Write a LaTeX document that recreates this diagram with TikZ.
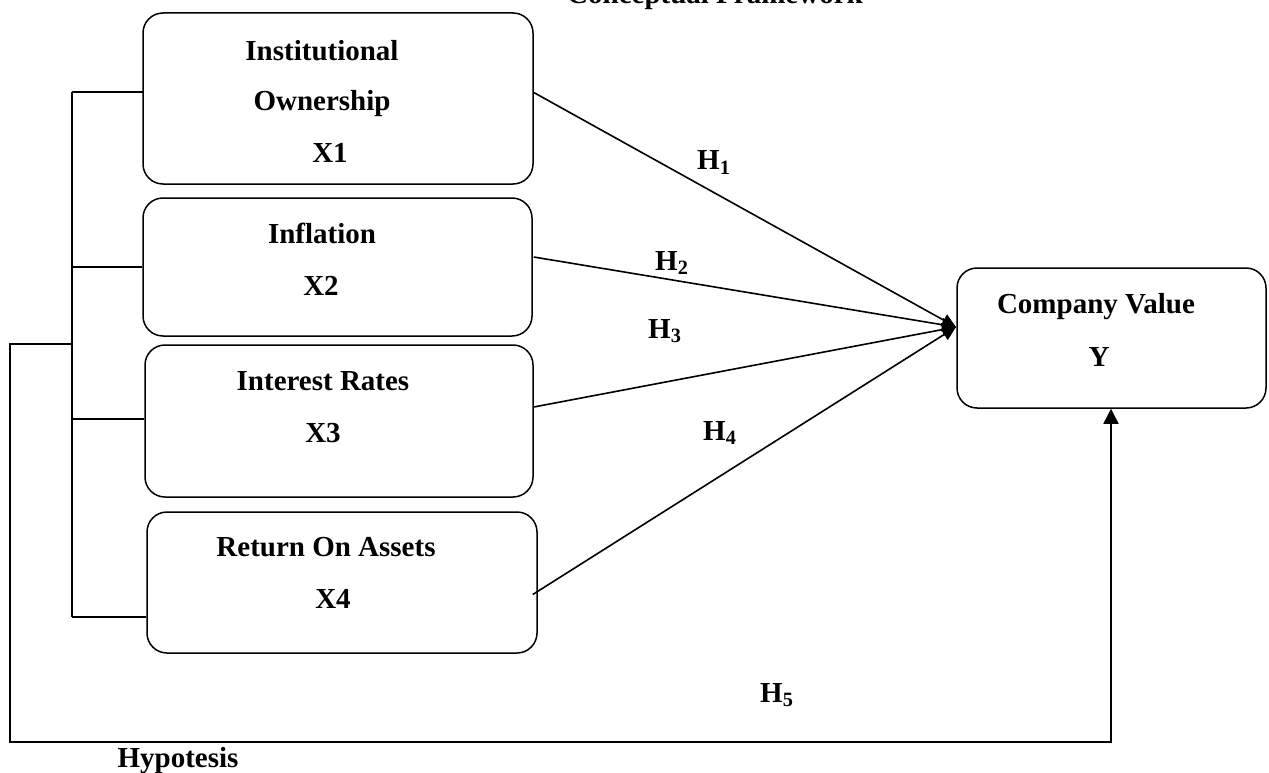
\documentclass[tikz,border=0pt]{standalone}
\usepackage{fontspec}
\setmainfont{Liberation Serif}
\usetikzlibrary{arrows.meta,calc}
\tikzset{
  varbox/.style={draw, line width=1.5pt, rounded corners=20pt, inner sep=0pt},
  lbl/.style={font=\fontsize{29}{34}\selectfont\bfseries, anchor=base, inner sep=0pt},
  conn/.style={line width=1.5pt},
  harrow/.style={line width=1.6pt, -{Triangle[length=14pt,width=13pt]}},
  uparrow/.style={line width=1.5pt, -{Triangle[length=15pt,width=15pt]}}
}
\begin{document}
\begin{tikzpicture}[x=1pt,y=-1pt]
\useasboundingbox (0,0) rectangle (1269,773);
% boxes
\node[varbox, minimum width=390pt, minimum height=171pt] (x1) at (338,98.5) {};
\node[varbox, minimum width=389pt, minimum height=138pt] (x2) at (337.5,267) {};
\node[varbox, minimum width=388pt, minimum height=152pt] (x3) at (339,421) {};
\node[varbox, minimum width=390pt, minimum height=141pt] (x4) at (342,582.5) {};
\node[varbox, minimum width=309pt, minimum height=140pt] (y) at (1111.5,338) {};
% texts
\node[lbl] (title) at (715,4) {Conceptual Framework};
\node[lbl] (t1a) at (322,61) {Institutional};
\node[lbl] (t1b) at (322,111) {Ownership};
\node[lbl] (t1c) at (330,163) {X1};
\node[lbl] (t2a) at (322,243) {Inflation};
\node[lbl] (t2b) at (321,295) {X2};
\node[lbl] (t3a) at (323,390) {Interest Rates};
\node[lbl] (t3b) at (323,442) {X3};
\node[lbl] (t4a) at (326,556) {Return On Assets};
\node[lbl] (t4b) at (333,608) {X4};
\node[lbl] (tya) at (1096,313) {Company Value};
\node[lbl] (tyb) at (1099,366) {Y};
\node[lbl, anchor=base west] (h1) at (697,170) {H\textsubscript{1}};
\node[lbl, anchor=base west] (h2) at (655,270) {H\textsubscript{2}};
\node[lbl, anchor=base west] (h3) at (648,338) {H\textsubscript{3}};
\node[lbl, anchor=base west] (h4) at (703,440) {H\textsubscript{4}};
\node[lbl, anchor=base west] (h5) at (760,702) {H\textsubscript{5}};
\node[lbl] (hyp) at (178,767) {Hypotesis};
% left bracket
\coordinate (b1) at (72,92);
\coordinate (b2) at (72,267);
\coordinate (b3) at (72,419);
\coordinate (b4) at (72,617);
\coordinate (lp) at (72,344);
\draw[conn] (b1) -- (b4);
\draw[conn] (b1) -- ($(b1 -| x1.west)+(2,0)$);
\draw[conn] (b2) -- (b2 -| x2.west);
\draw[conn] (b3) -- (b3 -| x3.west);
\draw[conn] (b4) -- (b4 -| x4.west);
% loop to Y (H5)
\coordinate (l1) at (10,344);
\coordinate (l2) at (10,742);
\coordinate (l3) at (1111,742);
\draw[uparrow] (lp) -- (l1) -- (l2) -- (l3) -- (l3 |- y.south);
% converging arrows
\coordinate (tip) at (956,327);
\draw[harrow] ($(x1.east)+(0,-6)$) -- (tip);
\draw[harrow] ($(x2.east)+(1,-10)$) -- (tip);
\draw[harrow] ($(x3.east)+(0,-14)$) -- (tip);
\draw[harrow] ($(x4.east)+(-5,12)$) -- (tip);
\end{tikzpicture}
\end{document}
